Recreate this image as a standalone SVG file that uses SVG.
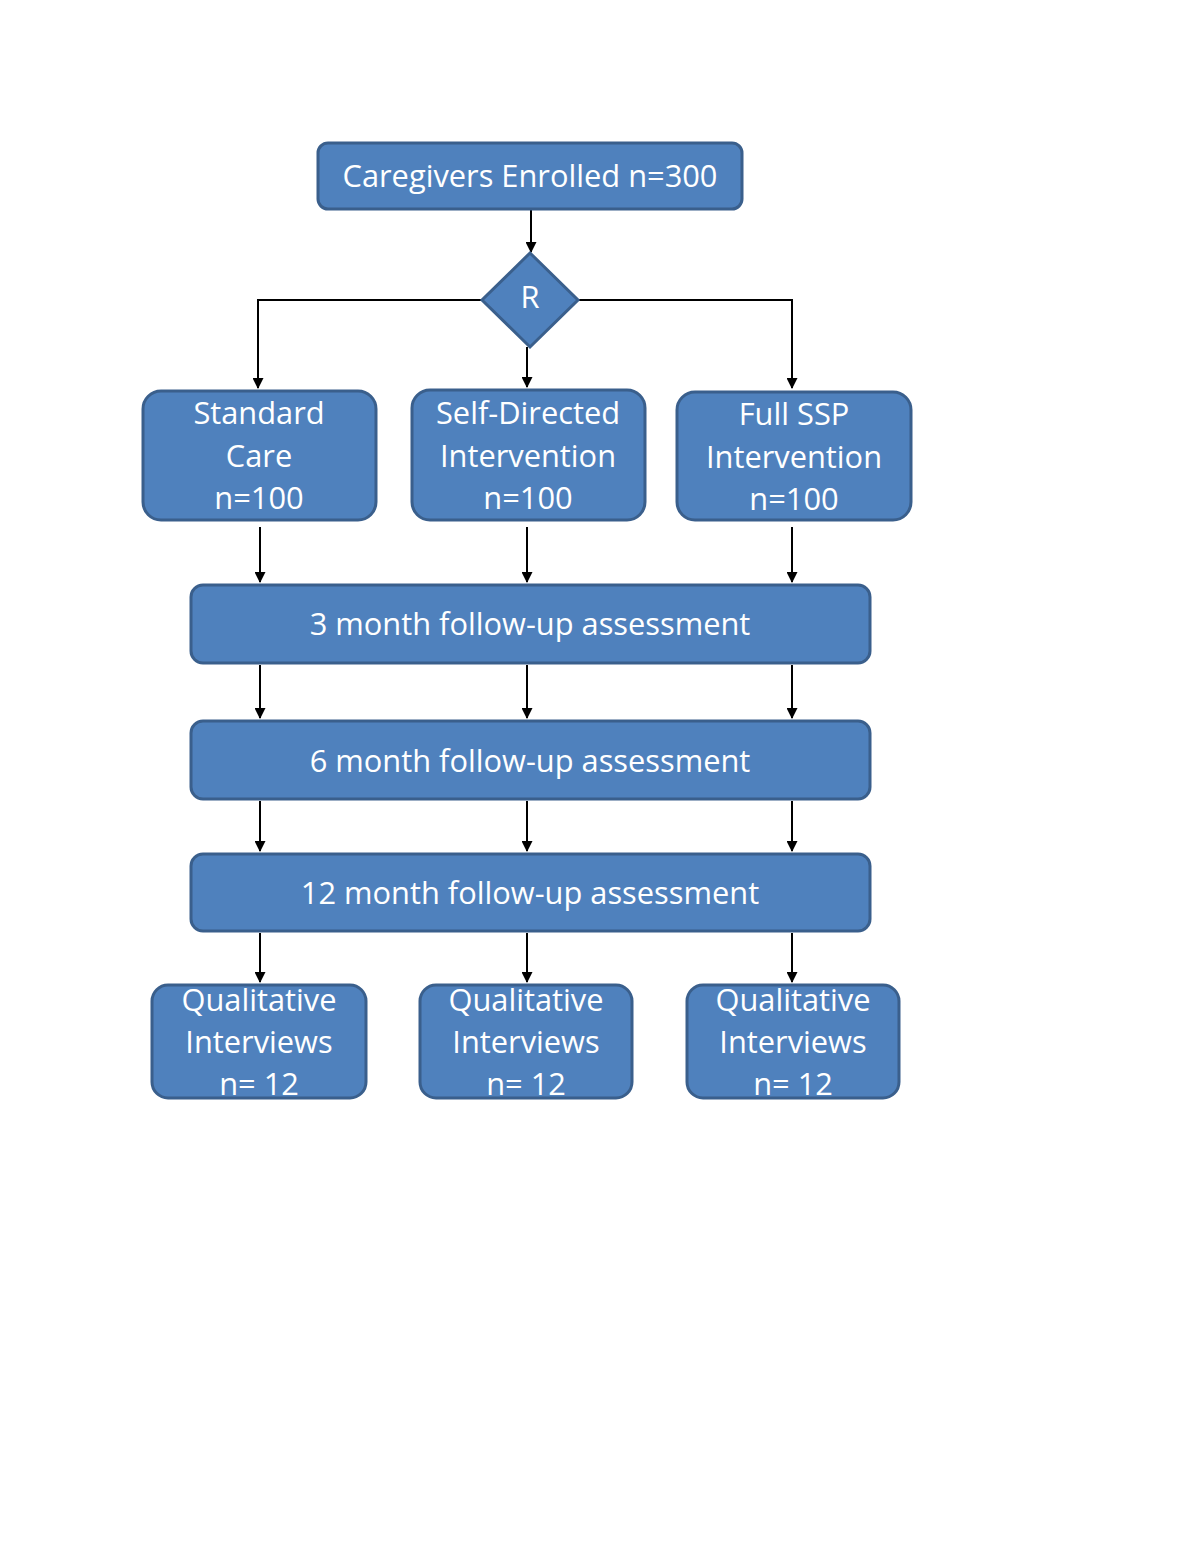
<svg xmlns="http://www.w3.org/2000/svg" width="1200" height="1553" viewBox="0 0 1200 1553">
<style>
.box{fill:#4F81BD;stroke:#3A5F8C;stroke-width:3}
.t{font-family:"Open Sans","Liberation Sans",sans-serif;font-size:30.8px;fill:#fff;text-anchor:middle}
.c{fill:none;stroke:#000;stroke-width:2}
</style>
<defs>
<marker id="ah" markerWidth="11" markerHeight="11" refX="10" refY="5.5" orient="auto" markerUnits="userSpaceOnUse">
<path d="M0,0 L11,5.5 L0,11 z" fill="#000"/>
</marker>
</defs>
<rect width="1200" height="1553" fill="#fff"/>
<g id="connectors">
<line class="c" x1="531" y1="210" x2="531" y2="252" marker-end="url(#ah)"/>
<polyline class="c" points="482,300 258,300 258,388" marker-end="url(#ah)"/>
<polyline class="c" points="578,300 792,300 792,388" marker-end="url(#ah)"/>
<line class="c" x1="527" y1="347" x2="527" y2="387" marker-end="url(#ah)"/>
<line class="c" x1="260" y1="527" x2="260" y2="582" marker-end="url(#ah)"/>
<line class="c" x1="527" y1="527" x2="527" y2="582" marker-end="url(#ah)"/>
<line class="c" x1="792" y1="527" x2="792" y2="582" marker-end="url(#ah)"/>
<line class="c" x1="260" y1="665" x2="260" y2="718" marker-end="url(#ah)"/>
<line class="c" x1="527" y1="665" x2="527" y2="718" marker-end="url(#ah)"/>
<line class="c" x1="792" y1="665" x2="792" y2="718" marker-end="url(#ah)"/>
<line class="c" x1="260" y1="801" x2="260" y2="851" marker-end="url(#ah)"/>
<line class="c" x1="527" y1="801" x2="527" y2="851" marker-end="url(#ah)"/>
<line class="c" x1="792" y1="801" x2="792" y2="851" marker-end="url(#ah)"/>
<line class="c" x1="260" y1="933" x2="260" y2="982" marker-end="url(#ah)"/>
<line class="c" x1="527" y1="933" x2="527" y2="982" marker-end="url(#ah)"/>
<line class="c" x1="792" y1="933" x2="792" y2="982" marker-end="url(#ah)"/>
</g>
<g id="enrolled">
<rect class="box" x="318" y="143" width="424" height="66" rx="10"/>
<text class="t" x="530" y="187">Caregivers Enrolled n=300</text>
</g>
<g id="randomize">
<polygon class="box" points="530,253 578,300 530,347 482,300"/>
<text class="t" x="530" y="308">R</text>
</g>
<g id="standard">
<rect class="box" x="143" y="391" width="233" height="129" rx="18"/>
<text class="t" x="259" y="424">Standard</text>
<text class="t" x="259" y="467">Care</text>
<text class="t" x="259" y="509">n=100</text>
</g>
<g id="selfdirected">
<rect class="box" x="412" y="390" width="233" height="130" rx="18"/>
<text class="t" x="528" y="424">Self-Directed</text>
<text class="t" x="528" y="467">Intervention</text>
<text class="t" x="528" y="509">n=100</text>
</g>
<g id="fullssp">
<rect class="box" x="677" y="392" width="234" height="128" rx="18"/>
<text class="t" x="794" y="425">Full SSP</text>
<text class="t" x="794" y="468">Intervention</text>
<text class="t" x="794" y="510">n=100</text>
</g>
<g id="m3">
<rect class="box" x="191" y="585" width="679" height="78" rx="12"/>
<text class="t" x="530" y="635">3 month follow-up assessment</text>
</g>
<g id="m6">
<rect class="box" x="191" y="721" width="679" height="78" rx="12"/>
<text class="t" x="530" y="772">6 month follow-up assessment</text>
</g>
<g id="m12">
<rect class="box" x="191" y="854" width="679" height="77" rx="12"/>
<text class="t" x="530" y="904">12 month follow-up assessment</text>
</g>
<g id="qual1">
<rect class="box" x="152" y="985" width="214" height="113" rx="16"/>
<text class="t" x="259" y="1011">Qualitative</text>
<text class="t" x="259" y="1053">Interviews</text>
<text class="t" x="259" y="1095">n= 12</text>
</g>
<g id="qual2">
<rect class="box" x="420" y="985" width="212" height="113" rx="16"/>
<text class="t" x="526" y="1011">Qualitative</text>
<text class="t" x="526" y="1053">Interviews</text>
<text class="t" x="526" y="1095">n= 12</text>
</g>
<g id="qual3">
<rect class="box" x="687" y="985" width="212" height="113" rx="16"/>
<text class="t" x="793" y="1011">Qualitative</text>
<text class="t" x="793" y="1053">Interviews</text>
<text class="t" x="793" y="1095">n= 12</text>
</g>
</svg>
